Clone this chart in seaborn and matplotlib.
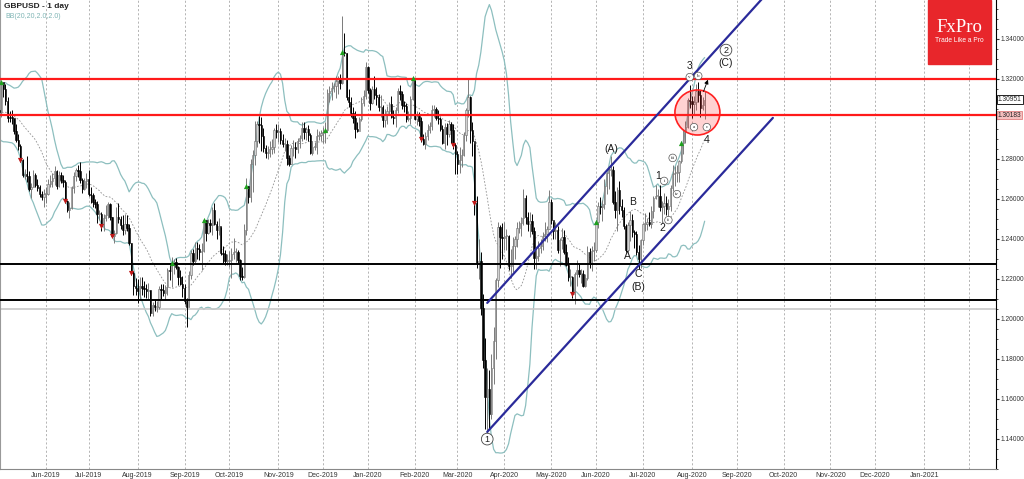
import numpy as np
import pandas as pd
import seaborn as sns
import matplotlib.pyplot as plt
from matplotlib.patches import Ellipse, Rectangle
from matplotlib.ticker import FormatStrFormatter, MultipleLocator

sns.set_style("white")
plt.rcParams['font.family'] = ['Liberation Sans', 'DejaVu Sans']

# GBPUSD daily, April 2019 closes only used to warm up the bands
warmup_close = [1.3065, 1.3160, 1.3120, 1.3040, 1.3035, 1.3080, 1.3060, 1.3110, 1.3070, 1.3085, 1.3090,
                1.3040, 1.3025, 1.3005, 1.3035, 1.2990, 1.2955, 1.2890, 1.2935, 1.2930, 1.2950, 1.3035]

# 2019-05-01 .. 2020-08-11, one line per month
close = [
    1.3045, 1.3033, 1.3185, 1.3149, 1.3090, 1.3006, 1.3005, 1.3004, 1.2940, 1.2893, 1.2863, 1.2792, 1.2717, 1.2722, 1.2714, 1.2651, 1.2660, 1.2717, 1.2670, 1.2656, 1.2623, 1.2609, 1.2625,
    1.2625, 1.2673, 1.2690, 1.2702, 1.2737, 1.2663, 1.2720, 1.2693, 1.2684, 1.2590, 1.2545, 1.2555, 1.2655, 1.2715, 1.2745, 1.2740, 1.2693, 1.2650, 1.2690, 1.2697,
    1.2625, 1.2620, 1.2582, 1.2573, 1.2523, 1.2525, 1.2465, 1.2505, 1.2520, 1.2575, 1.2510, 1.2415, 1.2430, 1.2510, 1.2500, 1.2470, 1.2445, 1.2475, 1.2455, 1.2380, 1.2230, 1.2165, 1.2155,
    1.2140, 1.2165, 1.2155, 1.2150, 1.2140, 1.2145, 1.2030, 1.2070, 1.2060, 1.2060, 1.2150, 1.2145, 1.2130, 1.2160, 1.2245, 1.2240, 1.2280, 1.2285, 1.2260, 1.2210, 1.2175, 1.2155,
    1.2090, 1.2060, 1.2220, 1.2330, 1.2290, 1.2355, 1.2350, 1.2335, 1.2340, 1.2495, 1.2430, 1.2480, 1.2470, 1.2545, 1.2475, 1.2445, 1.2465, 1.2330, 1.2325, 1.2290, 1.2290,
    1.2295, 1.2325, 1.2335, 1.2335, 1.2295, 1.2215, 1.2210, 1.2445, 1.2665, 1.2610, 1.2775, 1.2820, 1.2890, 1.2975, 1.2970, 1.2915, 1.2855, 1.2830, 1.2830, 1.2850, 1.2860, 1.2945, 1.2935,
    1.2940, 1.2895, 1.2875, 1.2875, 1.2805, 1.2775, 1.2855, 1.2860, 1.2850, 1.2890, 1.2905, 1.2955, 1.2935, 1.2950, 1.2920, 1.2830, 1.2860, 1.2860, 1.2915, 1.2920, 1.2930,
    1.2935, 1.2945, 1.3130, 1.3140, 1.3155, 1.3165, 1.3190, 1.3205, 1.3180, 1.3335, 1.3330, 1.3110, 1.3085, 1.3030, 1.3005, 1.2950, 1.2940, 1.3000, 1.3080, 1.3115, 1.3260,
    1.3145, 1.3080, 1.3150, 1.3120, 1.3110, 1.3060, 1.3060, 1.2995, 1.3020, 1.3040, 1.3075, 1.3010, 1.3005, 1.3045, 1.3140, 1.3125, 1.3070, 1.3065, 1.3000, 1.3005, 1.3100, 1.3205,
    1.3000, 1.3015, 1.2990, 1.2900, 1.2875, 1.2915, 1.2945, 1.2965, 1.3045, 1.3050, 1.3005, 1.3000, 1.2950, 1.2880, 1.2960, 1.2925, 1.2975, 1.2945, 1.2870, 1.2825,
    1.2775, 1.2795, 1.2820, 1.2920, 1.3045, 1.3110, 1.2945, 1.2890, 1.2580, 1.2280, 1.2290, 1.2055, 1.1795, 1.1610, 1.1650, 1.1525, 1.1755, 1.1890, 1.2195, 1.2460, 1.2410, 1.2405,
    1.2415, 1.2415, 1.2265, 1.2265, 1.2365, 1.2400, 1.2455, 1.2480, 1.2505, 1.2605, 1.2510, 1.2475, 1.2490, 1.2440, 1.2305, 1.2315, 1.2355, 1.2365, 1.2415, 1.2425, 1.2450, 1.2585,
    1.2495, 1.2440, 1.2445, 1.2345, 1.2395, 1.2410, 1.2335, 1.2270, 1.2210, 1.2210, 1.2125, 1.2225, 1.2245, 1.2225, 1.2225, 1.2165, 1.2205, 1.2335, 1.2275, 1.2340, 1.2345,
    1.2485, 1.2565, 1.2560, 1.2575, 1.2665, 1.2730, 1.2745, 1.2745, 1.2585, 1.2545, 1.2645, 1.2565, 1.2545, 1.2465, 1.2345, 1.2470, 1.2495, 1.2435, 1.2425, 1.2335, 1.2300, 1.2395,
    1.2475, 1.2475, 1.2485, 1.2475, 1.2540, 1.2605, 1.2615, 1.2615, 1.2560, 1.2565, 1.2580, 1.2550, 1.2565, 1.2655, 1.2725, 1.2730, 1.2735, 1.2790, 1.2880, 1.2940, 1.2960, 1.3095, 1.3090,
    1.3075, 1.3085, 1.3140, 1.3120, 1.3055, 1.3070, 1.30951,
]
high = [
    1.3090, 1.3100, 1.3190, 1.3175, 1.3175, 1.3110, 1.3040, 1.3045, 1.3000, 1.2975, 1.2925, 1.2875, 1.2800, 1.2750, 1.2813, 1.2740, 1.2680, 1.2745, 1.2730, 1.2700, 1.2670, 1.2640, 1.2650,
    1.2660, 1.2700, 1.2720, 1.2730, 1.2765, 1.2745, 1.2740, 1.2735, 1.2720, 1.2695, 1.2595, 1.2585, 1.2665, 1.2735, 1.2755, 1.2770, 1.2785, 1.2705, 1.2705, 1.2730,
    1.2745, 1.2660, 1.2630, 1.2600, 1.2590, 1.2545, 1.2535, 1.2525, 1.2570, 1.2585, 1.2580, 1.2510, 1.2445, 1.2560, 1.2580, 1.2515, 1.2520, 1.2525, 1.2520, 1.2475, 1.2380, 1.2240, 1.2205,
    1.2200, 1.2210, 1.2210, 1.2190, 1.2175, 1.2180, 1.2145, 1.2085, 1.2100, 1.2090, 1.2165, 1.2175, 1.2175, 1.2170, 1.2255, 1.2275, 1.2310, 1.2300, 1.2305, 1.2265, 1.2245, 1.2215,
    1.2175, 1.2105, 1.2240, 1.2345, 1.2350, 1.2385, 1.2385, 1.2375, 1.2380, 1.2500, 1.2480, 1.2500, 1.2500, 1.2560, 1.2580, 1.2490, 1.2505, 1.2460, 1.2365, 1.2345, 1.2325,
    1.2340, 1.2355, 1.2405, 1.2355, 1.2345, 1.2300, 1.2260, 1.2475, 1.2705, 1.2665, 1.2800, 1.2845, 1.2990, 1.2990, 1.3015, 1.3010, 1.2955, 1.2870, 1.2865, 1.2890, 1.2900, 1.2955, 1.2975,
    1.2975, 1.2955, 1.2925, 1.2905, 1.2895, 1.2820, 1.2870, 1.2895, 1.2885, 1.2905, 1.2920, 1.2985, 1.2985, 1.2960, 1.2970, 1.2930, 1.2890, 1.2885, 1.2950, 1.2940, 1.2945,
    1.2960, 1.2985, 1.3150, 1.3165, 1.3185, 1.3180, 1.3215, 1.3215, 1.3225, 1.3515, 1.3430, 1.3330, 1.3150, 1.3110, 1.3060, 1.3040, 1.2985, 1.3010, 1.3110, 1.3145, 1.3285,
    1.3265, 1.3155, 1.3165, 1.3215, 1.3160, 1.3125, 1.3120, 1.3070, 1.3050, 1.3065, 1.3085, 1.3115, 1.3045, 1.3060, 1.3155, 1.3170, 1.3140, 1.3090, 1.3080, 1.3040, 1.3115, 1.3210,
    1.3205, 1.3040, 1.3035, 1.3010, 1.2925, 1.2935, 1.2975, 1.2985, 1.3070, 1.3070, 1.3060, 1.3045, 1.3010, 1.2970, 1.2980, 1.2980, 1.2995, 1.2985, 1.2975, 1.2880,
    1.2840, 1.2860, 1.2850, 1.2935, 1.3055, 1.3200, 1.3115, 1.2985, 1.2875, 1.2615, 1.2400, 1.2335, 1.2125, 1.1905, 1.1755, 1.1745, 1.1825, 1.1960, 1.2205, 1.2485, 1.2470, 1.2480,
    1.2485, 1.2450, 1.2420, 1.2350, 1.2410, 1.2415, 1.2485, 1.2490, 1.2510, 1.2650, 1.2620, 1.2535, 1.2535, 1.2525, 1.2460, 1.2355, 1.2390, 1.2400, 1.2435, 1.2485, 1.2465, 1.2645,
    1.2600, 1.2485, 1.2485, 1.2465, 1.2405, 1.2455, 1.2445, 1.2375, 1.2310, 1.2250, 1.2215, 1.2235, 1.2295, 1.2280, 1.2250, 1.2245, 1.2225, 1.2365, 1.2355, 1.2365, 1.2385,
    1.2495, 1.2585, 1.2610, 1.2595, 1.2700, 1.2735, 1.2765, 1.2812, 1.2765, 1.2640, 1.2660, 1.2690, 1.2600, 1.2560, 1.2475, 1.2485, 1.2540, 1.2525, 1.2445, 1.2440, 1.2370, 1.2400,
    1.2480, 1.2530, 1.2505, 1.2535, 1.2565, 1.2615, 1.2670, 1.2650, 1.2670, 1.2590, 1.2630, 1.2615, 1.2600, 1.2670, 1.2770, 1.2765, 1.2770, 1.2795, 1.2890, 1.2950, 1.2990, 1.3105, 1.3170,
    1.3115, 1.3115, 1.3175, 1.3185, 1.3145, 1.3110, 1.3140,
]
low = [
    1.3010, 1.2985, 1.3010, 1.3110, 1.3070, 1.2985, 1.2985, 1.2975, 1.2925, 1.2885, 1.2845, 1.2785, 1.2710, 1.2700, 1.2685, 1.2640, 1.2605, 1.2660, 1.2660, 1.2640, 1.2610, 1.2595, 1.2560,
    1.2580, 1.2620, 1.2660, 1.2660, 1.2670, 1.2650, 1.2660, 1.2680, 1.2660, 1.2580, 1.2535, 1.2505, 1.2550, 1.2630, 1.2690, 1.2710, 1.2680, 1.2630, 1.2645, 1.2655,
    1.2615, 1.2580, 1.2560, 1.2555, 1.2480, 1.2495, 1.2440, 1.2440, 1.2490, 1.2505, 1.2495, 1.2410, 1.2380, 1.2425, 1.2480, 1.2450, 1.2420, 1.2425, 1.2440, 1.2370, 1.2220, 1.2120, 1.2120,
    1.2080, 1.2100, 1.2120, 1.2110, 1.2105, 1.2100, 1.2015, 1.2015, 1.2040, 1.2035, 1.2050, 1.2100, 1.2115, 1.2095, 1.2120, 1.2195, 1.2160, 1.2225, 1.2250, 1.2170, 1.2170, 1.2110,
    1.2075, 1.1959, 1.2060, 1.2200, 1.2270, 1.2280, 1.2300, 1.2295, 1.2245, 1.2335, 1.2390, 1.2425, 1.2435, 1.2420, 1.2470, 1.2400, 1.2420, 1.2320, 1.2280, 1.2270, 1.2270,
    1.2260, 1.2205, 1.2300, 1.2285, 1.2275, 1.2195, 1.2195, 1.2205, 1.2420, 1.2580, 1.2585, 1.2635, 1.2770, 1.2860, 1.2880, 1.2840, 1.2835, 1.2805, 1.2800, 1.2810, 1.2825, 1.2830, 1.2905,
    1.2885, 1.2875, 1.2860, 1.2840, 1.2770, 1.2765, 1.2775, 1.2815, 1.2805, 1.2830, 1.2855, 1.2890, 1.2900, 1.2895, 1.2890, 1.2825, 1.2820, 1.2845, 1.2825, 1.2895, 1.2890,
    1.2880, 1.2880, 1.2935, 1.3085, 1.3095, 1.3135, 1.3105, 1.3125, 1.3150, 1.3175, 1.3315, 1.3095, 1.3060, 1.3010, 1.2980, 1.2905, 1.2935, 1.2955, 1.2990, 1.3065, 1.3100,
    1.3130, 1.3045, 1.3075, 1.3100, 1.3070, 1.3040, 1.3010, 1.2960, 1.2960, 1.2975, 1.3020, 1.3005, 1.2975, 1.2960, 1.3030, 1.3095, 1.3050, 1.3035, 1.2985, 1.2990, 1.2975, 1.3095,
    1.2995, 1.2970, 1.2965, 1.2885, 1.2870, 1.2850, 1.2895, 1.2930, 1.2945, 1.3010, 1.2995, 1.2975, 1.2940, 1.2875, 1.2850, 1.2870, 1.2910, 1.2880, 1.2850, 1.2725,
    1.2725, 1.2730, 1.2760, 1.2815, 1.2890, 1.3010, 1.2880, 1.2815, 1.2520, 1.2255, 1.2200, 1.2020, 1.1755, 1.1450, 1.1410, 1.1450, 1.1500, 1.1675, 1.1800, 1.2160, 1.2255, 1.2300,
    1.2345, 1.2345, 1.2245, 1.2205, 1.2235, 1.2300, 1.2360, 1.2430, 1.2415, 1.2470, 1.2475, 1.2440, 1.2410, 1.2425, 1.2250, 1.2250, 1.2290, 1.2330, 1.2345, 1.2390, 1.2385, 1.2450,
    1.2475, 1.2400, 1.2400, 1.2330, 1.2265, 1.2350, 1.2325, 1.2265, 1.2190, 1.2165, 1.2105, 1.2075, 1.2165, 1.2210, 1.2180, 1.2160, 1.2160, 1.2195, 1.2255, 1.2240, 1.2290,
    1.2335, 1.2455, 1.2525, 1.2490, 1.2550, 1.2625, 1.2650, 1.2715, 1.2575, 1.2505, 1.2440, 1.2525, 1.2510, 1.2450, 1.2335, 1.2335, 1.2390, 1.2410, 1.2355, 1.2320, 1.2250, 1.2255,
    1.2370, 1.2440, 1.2445, 1.2465, 1.2455, 1.2505, 1.2600, 1.2560, 1.2540, 1.2480, 1.2525, 1.2520, 1.2480, 1.2540, 1.2640, 1.2665, 1.2685, 1.2685, 1.2780, 1.2825, 1.2880, 1.2955, 1.3055,
    1.3005, 1.3025, 1.3045, 1.3085, 1.3010, 1.3045, 1.3000,
]

# horizontal levels and channel
red_levels = [1.3200, 1.30183]
black_levels = [1.2272, 1.2095]
grey_level = 1.2048
channel_dates = ['2020-03-20', '2020-09-24']
channel_upper = [1.2079, 1.3659]
channel_lower = [1.1434, 1.3004]

# indicator signal arrows
buy_dates = ['2019-05-03', '2019-08-23', '2019-09-13', '2019-10-11', '2019-12-03',
             '2019-12-13', '2020-01-31', '2020-06-01', '2020-07-27']
sell_dates = ['2019-05-16', '2019-06-14', '2019-07-09', '2019-07-16', '2019-07-29',
              '2020-02-06', '2020-02-27', '2020-03-12', '2020-05-15']

# Elliott wave labels: text, date, price
wave_labels = [('(A)', '2020-06-10', 1.2849), ('B', '2020-06-24', 1.2582), ('A', '2020-06-22', 1.2313),
               ('C', '2020-06-29', 1.2224), ('(B)', '2020-06-29', 1.2158), ('1', '2020-07-10', 1.2713),
               ('2', '2020-07-14', 1.2453), ('3', '2020-07-31', 1.3264), ('4', '2020-08-12', 1.2893),
               ('(C)', '2020-08-25', 1.3279)]
small_circles = [('i', '2020-07-15', 1.2689), ('ii', '2020-07-17', 1.2493), ('iii', '2020-07-21', 1.2804),
                 ('iv', '2020-07-23', 1.2623), ('v', '2020-07-31', 1.3208), ('a', '2020-08-04', 1.2958),
                 ('b', '2020-08-06', 1.3214), ('c', '2020-08-12', 1.2958)]
big_circles = [('1', '2020-03-20', 1.1398), ('2', '2020-08-25', 1.3343)]

# trading-day axis (no bars on Christmas / New Year)
days = pd.bdate_range('2019-04-01', '2021-03-31')
days = days[~days.isin(pd.to_datetime(['2019-12-25', '2020-01-01']))]
origin = days.get_loc(pd.Timestamp('2019-06-03'))


def pos(d):
    return days.get_loc(pd.Timestamp(d)) - origin


closes_all = np.array(warmup_close + close)
x_all = np.arange(len(closes_all)) - origin
nw = len(warmup_close)
xc = x_all[nw:]
c = np.array(close)
h = np.array(high)
l = np.array(low)
o = closes_all[nw - 1:-1]

s = pd.Series(closes_all)
mid = s.rolling(20).mean()
sd = s.rolling(20).std(ddof=0)
bb = pd.DataFrame({'x': x_all, 'mid': mid, 'up': mid + 2 * sd, 'dn': mid - 2 * sd}).dropna()

fig = plt.figure(figsize=(10.24, 4.79), dpi=100)
ax = fig.add_axes([0, 10 / 479, 996 / 1024, 469 / 479])
ax.set_facecolor('white')

teal = '#8dbfbf'
sns.lineplot(data=bb, x='x', y='up', ax=ax, color=teal, lw=0.9, sort=False, estimator=None, zorder=1)
sns.lineplot(data=bb, x='x', y='dn', ax=ax, color=teal, lw=0.9, sort=False, estimator=None, zorder=1)
sns.lineplot(data=bb, x='x', y='mid', ax=ax, color='#909090', lw=0.6, linestyle=(0, (2, 2)),
             sort=False, estimator=None, zorder=1)
ax.set_xlabel('')
ax.set_ylabel('')

up = c >= o
ax.vlines(xc[up], l[up], h[up], color='#7a7a7a', lw=0.7, zorder=2)
ax.vlines(xc[~up], l[~up], h[~up], color='black', lw=0.7, zorder=2)
ax.bar(xc[up], np.maximum(c - o, 0.0003)[up], bottom=o[up], width=0.62, color='#d2d2d2',
       edgecolor='#6e6e6e', linewidth=0.4, zorder=3)
ax.bar(xc[~up], np.maximum(o - c, 0.0003)[~up], bottom=c[~up], width=0.62, color='black',
       edgecolor='black', linewidth=0.4, zorder=3)

for lv in red_levels:
    ax.axhline(lv, color='#ff1a1a', lw=1.6, zorder=4)
for lv in black_levels:
    ax.axhline(lv, color='black', lw=1.4, zorder=4)
ax.axhline(grey_level, color='#c8c8c8', lw=1.2, zorder=1)

cx = [pos(d) for d in channel_dates]
ax.plot(cx, channel_upper, color='#2a2a9a', lw=1.6, zorder=5)
ax.plot(cx, channel_lower, color='#2a2a9a', lw=1.6, zorder=5)

close_by_x = dict(zip(xc, c))
bx = [pos(d) for d in buy_dates]
ax.scatter(bx, [close_by_x[p] for p in bx], marker='^', s=14, color='#1fa01f', zorder=6, linewidths=0)
sx = [pos(d) for d in sell_dates]
ax.scatter(sx, [close_by_x[p] for p in sx], marker='v', s=14, color='#c01818', zorder=6, linewidths=0)

ax.add_patch(Ellipse((pos('2020-08-05') + 0.6, 1.3031), 21.1, 0.0225, fc=(1, 0.2, 0.2, 0.22),
                     ec='#ff2020', lw=1.2, zorder=6))

for t, d, p in wave_labels:
    ax.text(pos(d), p, t, ha='center', va='center', fontsize=7.5, color='#1a1a1a', zorder=7)
for t, d, p in small_circles:
    ax.text(pos(d), p, t, ha='center', va='center', fontsize=3.6, family='Liberation Serif',
            color='#222', zorder=7,
            bbox=dict(boxstyle='circle,pad=0.35', fc='white', ec='#555', lw=0.5))
for t, d, p in big_circles:
    ax.text(pos(d), p, t, ha='center', va='center', fontsize=6.5, color='#222', zorder=7,
            bbox=dict(boxstyle='circle,pad=0.15', fc='white', ec='#444', lw=0.6))
ax.annotate('', xy=(pos('2020-08-13'), 1.3208), xytext=(pos('2020-08-10'), 1.3123),
            arrowprops=dict(arrowstyle='-|>', color='black', lw=0.6, mutation_scale=6), zorder=7)

# axes, ticks, grid
ax.set_xlim(-21.58, 445.68)
ax.set_ylim(1.12485, 1.35935)
months = pd.date_range('2019-06-01', '2021-02-01', freq='MS')
mpos = [days.searchsorted(m) - origin for m in months]
mlab = [m.strftime('%b-%Y') for m in months[:-1]] + ['']
ax.set_xticks(mpos)
ax.set_xticklabels(mlab)
ax.grid(axis='x', color='#a8a8a8', lw=0.6, linestyle=(0, (2.5, 2.5)))
ax.grid(axis='y', visible=False)
ax.yaxis.tick_right()
ax.yaxis.set_major_locator(MultipleLocator(0.02))
ax.yaxis.set_minor_locator(MultipleLocator(0.005))
ax.yaxis.set_major_formatter(FormatStrFormatter('%.5f'))
ax.tick_params(axis='y', which='major', labelsize=4.8, length=2.5, pad=0.5, colors='#333')
ax.tick_params(axis='y', which='minor', length=1.5, color='#333')
ax.tick_params(axis='x', labelsize=5.0, length=2, pad=0.5, colors='#333')
ax.spines['top'].set_visible(False)
ax.spines['left'].set_color('#999999')
ax.spines['bottom'].set_color('#888888')
ax.spines['right'].set_color('black')
for sp in ax.spines.values():
    sp.set_linewidth(0.8)
fig.canvas.draw()
for lab in ax.get_yticklabels():
    if lab.get_text() == '1.30000':
        lab.set_visible(False)

# price tags on the right axis
tr = ax.get_yaxis_transform()
ax.text(1.002, close[-1], '%.5f' % close[-1], transform=tr, fontsize=4.8, va='center', ha='left',
        clip_on=False, zorder=8, bbox=dict(boxstyle='square,pad=0.12', fc='white', ec='black', lw=0.6))
ax.text(1.002, red_levels[1], '%.5f' % red_levels[1], transform=tr, fontsize=4.8, va='center', ha='left',
        clip_on=False, zorder=8, bbox=dict(boxstyle='square,pad=0.12', fc='#f6c0c0', ec='#e08080', lw=0.6))

fig.text(4 / 1024, 1 - 6 / 479, 'GBPUSD - 1 day', fontsize=6, weight='bold', color='#222', va='center')
fig.text(5 / 1024, 1 - 16 / 479, 'BB(20,20,2.0,2.0)', fontsize=5, color='#7fb5b5', va='center')

fig.add_artist(Rectangle((928 / 1024, 1 - 64 / 479), 63 / 1024, 64 / 479,
                         transform=fig.transFigure, color='#e8262b', zorder=10))
fig.text(959.5 / 1024, 1 - 28 / 479, 'FxPro', fontsize=13.5, family='Liberation Serif', color='white',
         ha='center', va='center', zorder=11)
fig.text(959.5 / 1024, 1 - 41 / 479, 'Trade Like a Pro', fontsize=4.8, color='white',
         ha='center', va='center', zorder=11)

fig.savefig('out.png', dpi=100)
